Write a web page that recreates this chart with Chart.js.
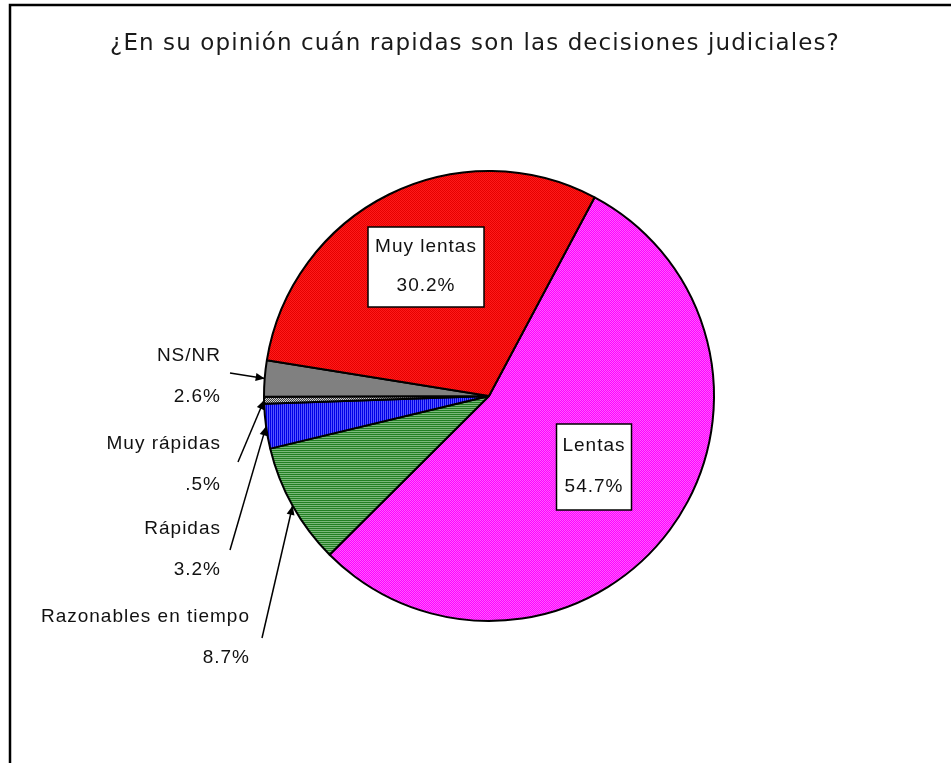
<!DOCTYPE html>
<html>
<head>
<meta charset="utf-8">
<script src="https://cdn.jsdelivr.net/npm/chart.js@4/dist/chart.umd.min.js"></script>
<style>
html,body{margin:0;padding:0;background:#fff;}
#wrap{width:951px;height:763px;position:relative;}
</style>
</head>
<body>
<div id="wrap"><canvas id="c" width="951" height="763"></canvas></div>
<script>
const titleText = '¿En su opinión cuán rapidas son las decisiones judiciales?';
const categories = ['Lentas', 'Razonables en tiempo', 'Rápidas', 'Muy rápidas', 'NS/NR', 'Muy lentas'];
const values = [54.7, 8.7, 3.2, 0.5, 2.6, 30.2];
const valueLabels = ['54.7%', '8.7%', '3.2%', '.5%', '2.6%', '30.2%'];

function makePattern(w, h, cells) {
  const c = document.createElement('canvas');
  c.width = w; c.height = h;
  const x = c.getContext('2d');
  for (let j = 0; j < h; j++) for (let i = 0; i < w; i++) {
    x.fillStyle = cells(i, j);
    x.fillRect(i, j, 1, 1);
  }
  return x.createPattern(c, 'repeat');
}
const fills = [
  makePattern(2, 2, (i, j) => ((i + j) % 2 ? '#ff00ff' : '#ff5cff')),          // Lentas magenta
  makePattern(2, 2, (i, j) => (j % 2 ? '#7ab87a' : '#238023')),                 // Razonables green horiz
  makePattern(2, 2, (i, j) => (i % 2 ? '#5555ff' : '#0000e6')),                 // Rápidas blue vert
  makePattern(2, 2, (i, j) => ((i + j) % 2 ? '#404040' : '#d0d0d0')),           // Muy rápidas dotted
  '#808080',                                                                     // NS/NR gray
  makePattern(2, 2, (i, j) => ((i + j) % 2 ? '#ff1a1a' : '#e60000'))            // Muy lentas red
];

// label layout (offsets relative to pie center, in px)
const labelCfg = [
  { type: 'box', dx: 105, dy: 71, w: 75, h: 86 },
  { type: 'arrow', tx: -239, ty1: 221, ty2: 262, tailDx: -227, tailDy: 242 },
  { type: 'arrow', tx: -268, ty1: 133, ty2: 174, tailDx: -259, tailDy: 154 },
  { type: 'arrow', tx: -268, ty1: 48, ty2: 89, tailDx: -251, tailDy: 66 },
  { type: 'arrow', tx: -268, ty1: -40, ty2: 1, tailDx: -259, tailDy: -23 },
  { type: 'box', dx: -63, dy: -129, w: 116, h: 80 }
];

function arrow(ctx, x1, y1, x2, y2) {
  ctx.beginPath();
  ctx.moveTo(x1, y1);
  ctx.lineTo(x2, y2);
  ctx.lineWidth = 1.5;
  ctx.strokeStyle = '#000';
  ctx.stroke();
  const a = Math.atan2(y2 - y1, x2 - x1);
  const L = 9, W = 4;
  ctx.beginPath();
  ctx.moveTo(x2, y2);
  ctx.lineTo(x2 - L * Math.cos(a) + W * Math.sin(a), y2 - L * Math.sin(a) - W * Math.cos(a));
  ctx.lineTo(x2 - L * Math.cos(a) - W * Math.sin(a), y2 - L * Math.sin(a) + W * Math.cos(a));
  ctx.closePath();
  ctx.fillStyle = '#000';
  ctx.fill();
}

const decor = {
  id: 'decor',
  beforeDraw(chart) {
    const ctx = chart.ctx;
    ctx.save();
    ctx.fillStyle = '#fff';
    ctx.fillRect(0, 0, chart.width, chart.height);
    ctx.strokeStyle = '#000';
    ctx.lineWidth = 2.5;
    ctx.beginPath();
    ctx.moveTo(10, chart.height + 2);
    ctx.lineTo(10, 5);
    ctx.lineTo(chart.width + 2, 5);
    ctx.stroke();
    ctx.fillStyle = '#1a1a1a';
    ctx.font = '23px "DejaVu Sans"';
    ctx.textAlign = 'center';
    ctx.textBaseline = 'middle';
    if ('letterSpacing' in ctx) ctx.letterSpacing = '1.1px';
    ctx.fillText(titleText, 475, 44);
    ctx.restore();
  },
  afterDatasetsDraw(chart) {
    const ctx = chart.ctx;
    const meta = chart.getDatasetMeta(0);
    ctx.save();
    ctx.font = '19px "Liberation Sans", Arial, sans-serif';
    if ('letterSpacing' in ctx) ctx.letterSpacing = '1px';
    ctx.textBaseline = 'middle';
    meta.data.forEach((arc, i) => {
      const cfg = labelCfg[i];
      const cx = arc.x, cy = arc.y, r = arc.outerRadius;
      if (cfg.type === 'box') {
        const bx = cx + cfg.dx - cfg.w / 2, by = cy + cfg.dy - cfg.h / 2;
        ctx.fillStyle = '#fff';
        ctx.fillRect(bx, by, cfg.w, cfg.h);
        ctx.strokeStyle = '#000';
        ctx.lineWidth = 1.5;
        ctx.strokeRect(bx, by, cfg.w, cfg.h);
        ctx.fillStyle = '#111';
        ctx.textAlign = 'center';
        ctx.fillText(categories[i], cx + cfg.dx, by + cfg.h * 0.25);
        ctx.fillText(valueLabels[i], cx + cfg.dx, by + cfg.h * 0.73);
      } else {
        const mid = (arc.startAngle + arc.endAngle) / 2;
        const tipX = cx + r * Math.cos(mid), tipY = cy + r * Math.sin(mid);
        arrow(ctx, cx + cfg.tailDx, cy + cfg.tailDy, tipX, tipY);
        ctx.fillStyle = '#111';
        ctx.textAlign = 'right';
        ctx.fillText(categories[i], cx + cfg.tx, cy + cfg.ty1);
        ctx.fillText(valueLabels[i], cx + cfg.tx, cy + cfg.ty2);
      }
    });
    ctx.restore();
  }
};

new Chart(document.getElementById('c'), {
  type: 'pie',
  data: {
    labels: categories,
    datasets: [{
      data: values,
      backgroundColor: fills,
      borderColor: '#000',
      borderWidth: 2,
      borderAlign: 'center'
    }]
  },
  options: {
    responsive: false,
    animation: false,
    rotation: 28,
    layout: { padding: { left: 263, right: 236, top: 170, bottom: 141 } },
    plugins: {
      legend: { display: false },
      tooltip: { enabled: false },
      title: { display: false }
    },
    hover: { mode: null }
  },
  plugins: [decor]
});
</script>
</body>
</html>
